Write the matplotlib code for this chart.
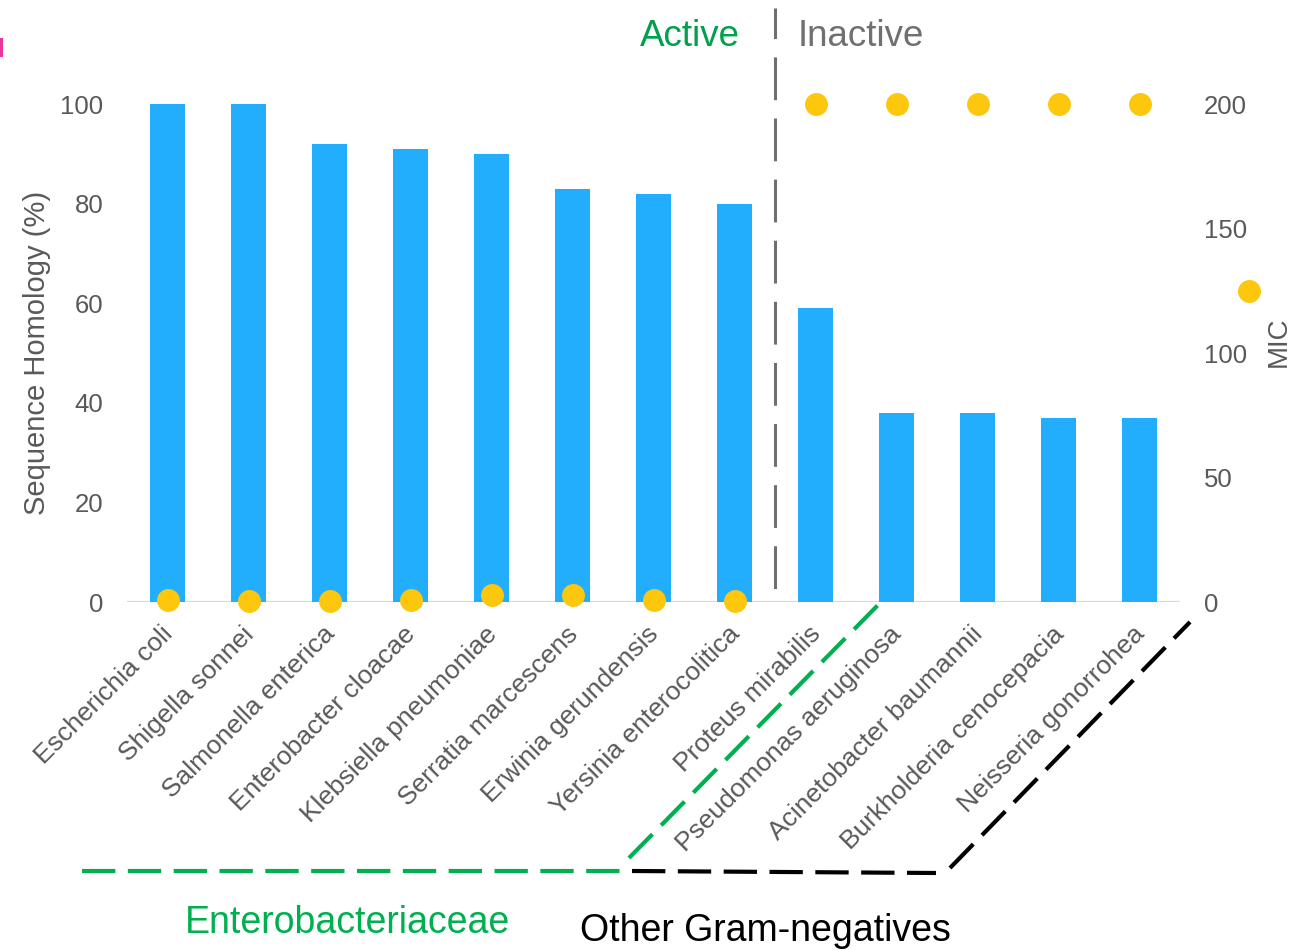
import matplotlib
matplotlib.use("Agg")
import matplotlib.pyplot as plt
from matplotlib.lines import Line2D
from matplotlib.patches import Rectangle
import matplotlib.transforms as mtrans
import numpy as np

plt.rcParams['font.family'] = ['Liberation Sans', 'DejaVu Sans']

species = ["Escherichia coli", "Shigella sonnei", "Salmonella enterica",
           "Enterobacter cloacae", "Klebsiella pneumoniae", "Serratia marcescens",
           "Erwinia gerundensis", "Yersinia enterocolitica", "Proteus mirabilis",
           "Pseudomonas aeruginosa", "Acinetobacter baumannii",
           "Burkholderia cenocepacia", "Neisseria gonorrohea"]
homology = [100, 100, 92, 91, 90, 83, 82, 80, 59, 38, 38, 37, 37]
mic = [0.8, 0.5, 0.5, 0.8, 3, 3, 0.8, 0.5, 200, 200, 200, 200, 200]
left_ticks = [0, 20, 40, 60, 80, 100]
right_ticks = [0, 50, 100, 150, 200]

W, H = 1309, 950
BAR = '#22ADFD'
DOT = '#FDC70E'
GREEN = '#00B050'
TICK = '#595959'


def px(x, y):
    return x / W, 1 - y / H


fig = plt.figure(figsize=(W / 100, H / 100), dpi=100)
ax = fig.add_axes([127 / W, 1 - 602 / H, (1180 - 127) / W, (602 - 104) / H])
x = np.arange(len(species))
ax.bar(x, homology, width=0.42, color=BAR, zorder=2)
ax.axhline(0, color='#d9d9d9', lw=1.6, zorder=1)
ax.set_xlim(-0.5, len(species) - 0.5)
ax.set_ylim(0, 100)
ax.set_yticks(left_ticks)
ax.tick_params(axis='y', length=0, pad=17, labelsize=18.5, labelcolor=TICK)
ax.set_xticks([])
for s in ax.spines.values():
    s.set_visible(False)

ax2 = ax.twinx()
ax2.plot(x, mic, 'o', ms=16.5, color=DOT, clip_on=False, zorder=5, mec='none')
ax2.set_ylim(0, 200)
ax2.set_yticks(right_ticks)
ax2.tick_params(axis='y', length=0, pad=17, labelsize=18.5, labelcolor=TICK)
for s in ax2.spines.values():
    s.set_visible(False)

# category labels
trans = mtrans.blended_transform_factory(ax.transData, ax.transAxes) + \
    mtrans.ScaledTranslation(-7 / 100, -20 / 100, fig.dpi_scale_trans)
for i, name in enumerate(species):
    ax.text(i, 0, name, transform=trans, rotation=45, ha='right', va='top',
            rotation_mode='anchor', fontsize=19, color=TICK)

# axis titles
fig.text(*px(37, 353), "Sequence Homology (%)", rotation=90, ha='center',
         va='center', fontsize=21, color=TICK)
fig.text(*px(1279, 342), "MIC", rotation=90, ha='center', va='center',
         fontsize=20, color=TICK)
fig.add_artist(Line2D([1249 / W], [1 - 291 / H], marker='o', ms=16.5, color=DOT,
                      mec='none', transform=fig.transFigure))

# active / inactive divider
fig.add_artist(Line2D([775 / W, 775 / W], [1 - 8 / H, 1 - 603 / H],
                      transform=fig.transFigure, color='#6f6f6f', lw=2.2,
                      linestyle=(4, (14, 6))))
fig.text(*px(690, 36), "Active", ha='center', va='center', fontsize=26.5,
         color='#00A04C')
fig.text(*px(861, 36), "Inactive", ha='center', va='center', fontsize=26.5,
         color='#707070')

# group brackets
fig.add_artist(Line2D([82 / W, 624 / W], [1 - 871 / H, 1 - 871 / H],
                      transform=fig.transFigure, color=GREEN, lw=3,
                      linestyle=(0, (8, 3))))
fig.add_artist(Line2D([629 / W, 880 / W], [1 - 858 / H, 1 - 603 / H],
                      transform=fig.transFigure, color=GREEN, lw=3,
                      linestyle=(0, (8, 3))))
fig.add_artist(Line2D([632 / W, 936 / W], [1 - 871 / H, 1 - 873 / H],
                      transform=fig.transFigure, color='black', lw=3,
                      linestyle=(0, (8, 3))))
fig.add_artist(Line2D([950 / W, 1190 / W], [1 - 868 / H, 1 - 622 / H],
                      transform=fig.transFigure, color='black', lw=3,
                      linestyle=(0, (8, 3))))
fig.text(*px(347, 923), "Enterobacteriaceae", ha='center', va='center',
         fontsize=27, color=GREEN)
fig.text(*px(765, 931), "Other Gram-negatives", ha='center', va='center',
         fontsize=27, color='black')

# small magenta sliver at left edge
fig.add_artist(Rectangle(px(0, 57), 2.5 / W, 19 / H, transform=fig.transFigure,
                         color='#E6399B', lw=0))

fig.savefig("out.png", dpi=100)
